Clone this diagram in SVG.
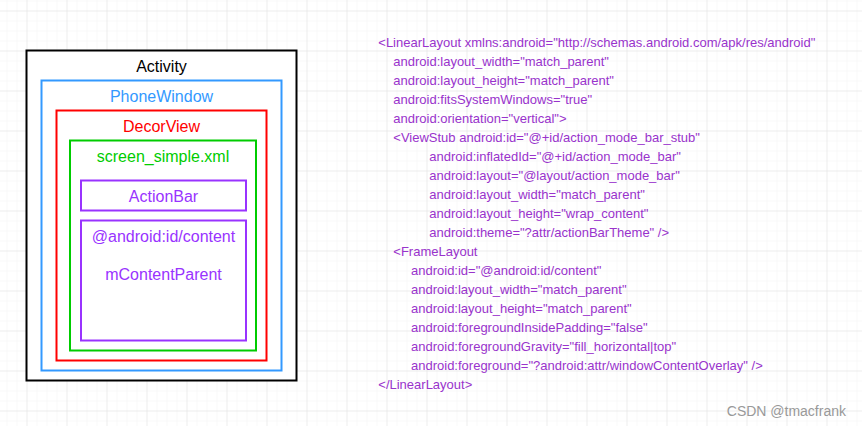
<svg xmlns="http://www.w3.org/2000/svg" width="862" height="426" viewBox="0 0 862 426">
<defs>
<pattern id="minor" patternUnits="userSpaceOnUse" x="6.5" y="0.5" width="10" height="10">
<path d="M0 0H10M0 0V10" fill="none" stroke="#f3f3f3" stroke-width="1"/>
</pattern>
<pattern id="major" patternUnits="userSpaceOnUse" x="26.5" y="10.5" width="40" height="40">
<path d="M0 0H40M0 0V40" fill="none" stroke="#e4e4e4" stroke-width="1"/>
</pattern>
</defs>
<style>
.box{fill:#fff;stroke-width:2}
.lbl{font-family:"Liberation Sans",Arial,sans-serif;font-size:16px;text-anchor:middle}
.code{font-family:"Liberation Sans",Arial,sans-serif;font-size:13px;fill:#9933cc}
</style>
<rect width="862" height="426" fill="#fff"/>
<rect width="862" height="426" fill="url(#minor)"/>
<rect width="862" height="426" fill="url(#major)"/>
<g id="activity">
<rect class="box" x="26.5" y="50.5" width="270" height="330" stroke="#000"/>
<text class="lbl" x="161.5" y="72" fill="#000">Activity</text>
</g>
<g id="phonewindow">
<rect class="box" x="41.5" y="80.5" width="240" height="290" stroke="#3399ff"/>
<text class="lbl" x="161.5" y="102" fill="#3399ff">PhoneWindow</text>
</g>
<g id="decorview">
<rect class="box" x="56.5" y="110.5" width="210" height="250" stroke="#ff0000"/>
<text class="lbl" x="161.5" y="132" fill="#ff0000">DecorView</text>
</g>
<g id="screen_simple">
<rect class="box" x="70" y="140.5" width="186" height="210" stroke="#00cc00"/>
<text class="lbl" x="163" y="162" fill="#00cc00">screen_simple.xml</text>
</g>
<g id="actionbar">
<rect class="box" x="81" y="180.5" width="165" height="30" stroke="#9933ff"/>
<text class="lbl" x="163.5" y="202" fill="#9933ff">ActionBar</text>
</g>
<g id="content">
<rect class="box" x="81" y="220.5" width="165" height="120" stroke="#9933ff"/>
<text class="lbl" x="163.5" y="242" fill="#9933ff">@android:id/content</text>
<text class="lbl" x="163.5" y="279.5" fill="#9933ff">mContentParent</text>
</g>
<g id="connectors"/>
<g id="code">
<text class="code" x="378.3" y="46.7">&lt;LinearLayout xmlns:android="http://schemas.android.com/apk/res/android"</text>
<text class="code" x="393.3" y="65.7">android:layout_width="match_parent"</text>
<text class="code" x="393.3" y="84.7">android:layout_height="match_parent"</text>
<text class="code" x="393.3" y="103.7">android:fitsSystemWindows="true"</text>
<text class="code" x="393.3" y="122.7">android:orientation="vertical"&gt;</text>
<text class="code" x="393.3" y="141.7">&lt;ViewStub android:id="@+id/action_mode_bar_stub"</text>
<text class="code" x="429.3" y="160.7">android:inflatedId="@+id/action_mode_bar"</text>
<text class="code" x="429.3" y="179.7">android:layout="@layout/action_mode_bar"</text>
<text class="code" x="429.3" y="198.7">android:layout_width="match_parent"</text>
<text class="code" x="429.3" y="217.7">android:layout_height="wrap_content"</text>
<text class="code" x="429.3" y="236.7">android:theme="?attr/actionBarTheme" /&gt;</text>
<text class="code" x="393.3" y="255.7">&lt;FrameLayout</text>
<text class="code" x="411" y="274.7">android:id="@android:id/content"</text>
<text class="code" x="411" y="293.7">android:layout_width="match_parent"</text>
<text class="code" x="411" y="312.7">android:layout_height="match_parent"</text>
<text class="code" x="411" y="331.7">android:foregroundInsidePadding="false"</text>
<text class="code" x="411" y="350.7">android:foregroundGravity="fill_horizontal|top"</text>
<text class="code" x="411" y="369.7">android:foreground="?android:attr/windowContentOverlay" /&gt;</text>
<text class="code" x="378.3" y="388.7">&lt;/LinearLayout&gt;</text>
</g>
<text x="846" y="416" font-family="'Liberation Sans',Arial,sans-serif" font-size="14" fill="#999999" text-anchor="end">CSDN @tmacfrank</text>
</svg>
